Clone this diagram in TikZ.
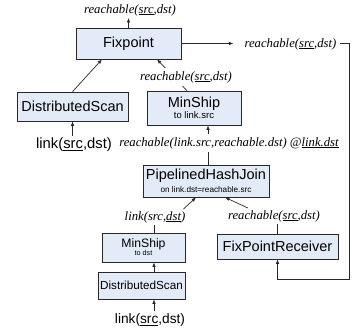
\documentclass[tikz,border=0pt]{standalone}
\usepackage{fontspec}
\setmainfont{Liberation Serif}
\setsansfont{Liberation Sans}
\usetikzlibrary{arrows.meta,calc}
\definecolor{boxfill}{RGB}{228,235,248}
\definecolor{edge}{RGB}{40,40,40}
\begin{document}
\begin{tikzpicture}[x=1pt,y=-1pt,
  box/.style={draw=edge, fill=boxfill, line width=0.7pt, inner sep=0pt, align=center, font=\sffamily\fontsize{14.5}{14.5}\selectfont},
  lbl/.style={inner sep=2pt, font=\itshape\fontsize{12.7}{13}\selectfont},
  slbl/.style={inner sep=2pt, font=\sffamily\fontsize{14.8}{15}\selectfont},
  conn/.style={draw=edge, line width=0.7pt},
  arr/.style={conn, -{Latex[length=4.5pt,width=3.6pt]}}]
\useasboundingbox (0,0) rectangle (357,333);
% boxes
\node[box, minimum width=105pt, minimum height=31pt] (fix) at (128.5,43.5) {Fixpoint};
\node[box, minimum width=111pt, minimum height=29pt] (ds1) at (72.5,106.5) {DistributedScan};
\node[box, minimum width=94pt, minimum height=34pt] (ms1) at (194,108) {MinShip\\[-4pt]{\fontsize{9.5}{9.5}\selectfont to link.src}};
\node[box, minimum width=126pt, minimum height=32pt] (phj) at (206,181) {PipelinedHashJoin\\[-2pt]{\fontsize{8.2}{8.2}\selectfont on link.dst=reachable.src}};
\node[box, minimum width=83pt, minimum height=29pt, font=\sffamily\fontsize{12.2}{12.2}\selectfont] (ms2) at (143.5,247.5) {MinShip\\[-4pt]{\fontsize{7.2}{7.2}\selectfont to dst}};
\node[box, minimum width=87pt, minimum height=27pt, font=\sffamily\fontsize{11.7}{11.7}\selectfont] (ds2) at (141.5,285.5) {DistributedScan};
\node[box, minimum width=121pt, minimum height=25pt] (fpr) at (277.5,246.5) {FixPointReceiver};
% labels that are endpoints
\node[lbl] (L1) at (130,10) {reachable(\underline{src},dst)};
\node[lbl] (L3) at (290.5,44) {reachable(\underline{src},dst)};
\node[lbl] (L5) at (155,217) {link(src,\underline{dst})};
\node[lbl] (L6) at (274,216) {reachable(\underline{src},dst)};
\node[slbl] (L7) at (74,145) {link(\underline{src},dst)};
\node[slbl, font=\sffamily\fontsize{13.7}{14}\selectfont] (L8) at (150,320) {link(\underline{src},dst)};
% helper coordinates
\coordinate (c1) at (349,279);
\coordinate (l3w) at ([xshift=-9pt]L3.west);
\coordinate (a2s) at ([xshift=-26.5pt]fix.south);
\coordinate (a4) at ([xshift=2pt]phj.north);
\coordinate (m1n) at ([xshift=-7pt]ms1.north);
\coordinate (f1s) at ([xshift=28.5pt]fix.south);
\coordinate (a5) at ([xshift=10.5pt]ms2.north);
\coordinate (a8) at ([xshift=12.5pt]ds2.south);
\coordinate (a9) at ([xshift=12.5pt]ds2.north);
% connectors
\draw[arr] (fix.north) -- (fix.north |- L1.south);
\draw[arr] (ds1.north) -- (a2s);
\draw[arr] (ds1.south |- L7.north) -- (ds1.south);
\draw[arr] (m1n) -- (f1s);
\draw[arr] (fix.east) -- (fix.east -| l3w);
\draw[arr] ([xshift=1pt]L3.east |- fix.east) -| (c1) -| (fpr.south);
\draw[arr] (a4) -- (a4 |- ms1.south);
\draw[conn] (a5) -- (a5 |- L5.south);
\draw[arr] ([xshift=-4pt]L5.north east) -- ([xshift=-10pt]phj.south);
\draw[conn] (fpr.north) -- (fpr.north |- L6.south);
\draw[arr] ([xshift=22pt]L6.north west) -- ([xshift=19pt]phj.south);
\draw[arr] (a9) -- (a9 |- ms2.south);
\draw[arr] (a8 |- L8.north) -- (a8);
% labels over lines
\node[lbl, fill=white, inner sep=3pt] (L2) at (186,77) {reachable(\underline{src},dst)};
\node[lbl, fill=white, inner sep=3pt] (L4) at (229,143) {reachable(link.src,reachable.dst) @\underline{link.dst}};
\end{tikzpicture}
\end{document}
